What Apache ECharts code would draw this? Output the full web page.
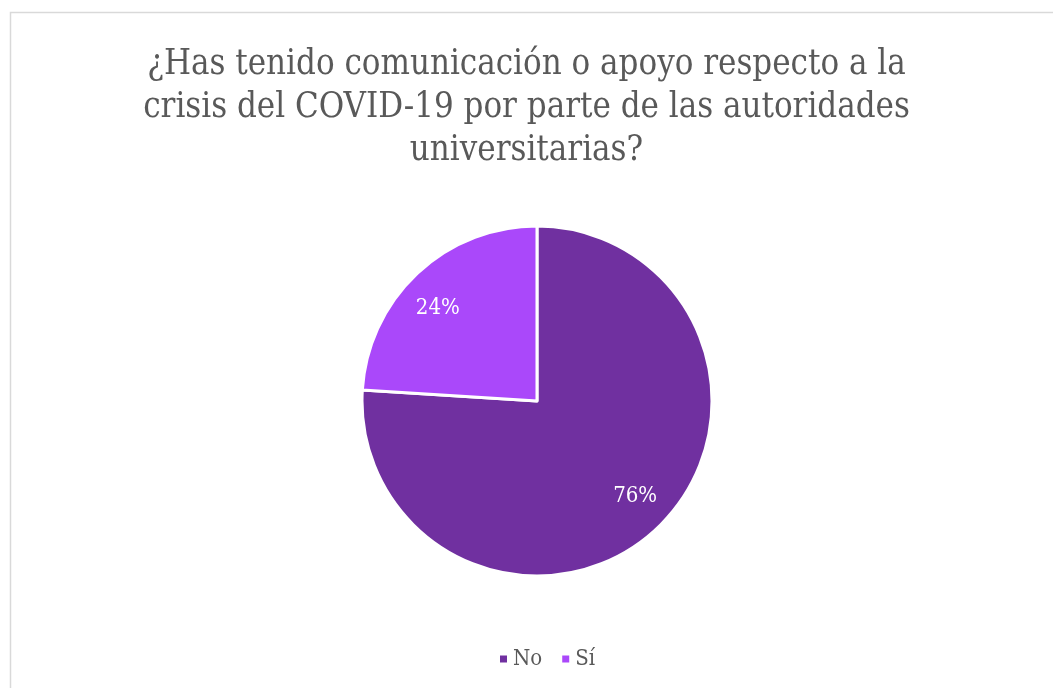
<!DOCTYPE html>
<html>
<head>
<meta charset="utf-8">
<script src="https://cdn.jsdelivr.net/npm/echarts@6/dist/echarts.min.js"></script>
<style>html,body{margin:0;padding:0;background:#fff}#c{width:1053px;height:688px}</style>
</head>
<body>
<div id="c"></div>
<script>
var categories = ['No', 'Sí'];
var values = [76, 24];
var colors = ['#7030A0', '#AA48FA'];
var titleText = '¿Has tenido comunicación o apoyo respecto a la\ncrisis del COVID-19 por parte de las autoridades\nuniversitarias?';

var font = 'DejaVu Serif Condensed';
var data = categories.map(function (c, i) { return { name: c, value: values[i], itemStyle: { color: colors[i] } }; });
var labelOffsets = [[3, -6], [-4, 9]];

var chart = echarts.init(document.getElementById('c'));
chart.setOption({
  animation: false,
  graphic: [{
    type: 'rect', left: 8, top: 10, shape: { width: 1100, height: 700 },
    style: { fill: 'none', stroke: '#d9d9d9', lineWidth: 1.5 }, silent: true, z: -1
  }],
  title: {
    text: titleText, left: 'center', top: 39,
    textStyle: { fontFamily: font, fontSize: 34.5, fontWeight: 'normal', color: '#595959', lineHeight: 43 }
  },
  legend: {
    data: categories, bottom: 13, left: 493, icon: 'rect', itemWidth: 9, itemHeight: 9, itemGap: 18, itemTextGap: 6,
    textStyle: { fontFamily: font, fontSize: 22, color: '#595959' }
  },
  series: [{
    type: 'pie', center: [537, 401], radius: [0, 175], startAngle: 90, clockwise: true,
    label: { show: false }, labelLine: { show: false },
    itemStyle: { borderColor: '#fff', borderWidth: 3 },
    data: data
  }, {
    type: 'pie', center: [537, 401], radius: [97, 175], startAngle: 90, clockwise: true, silent: true,
    itemStyle: { color: 'transparent', borderWidth: 0 },
    label: { show: true, position: 'inside', formatter: '{d}%', fontFamily: font, fontSize: 22, color: '#fff' },
    labelLine: { show: false },
    data: categories.map(function (c, i) { return { name: c, value: values[i], itemStyle: { color: 'transparent' }, label: { offset: labelOffsets[i] } }; })
  }]
});
</script>
</body>
</html>
